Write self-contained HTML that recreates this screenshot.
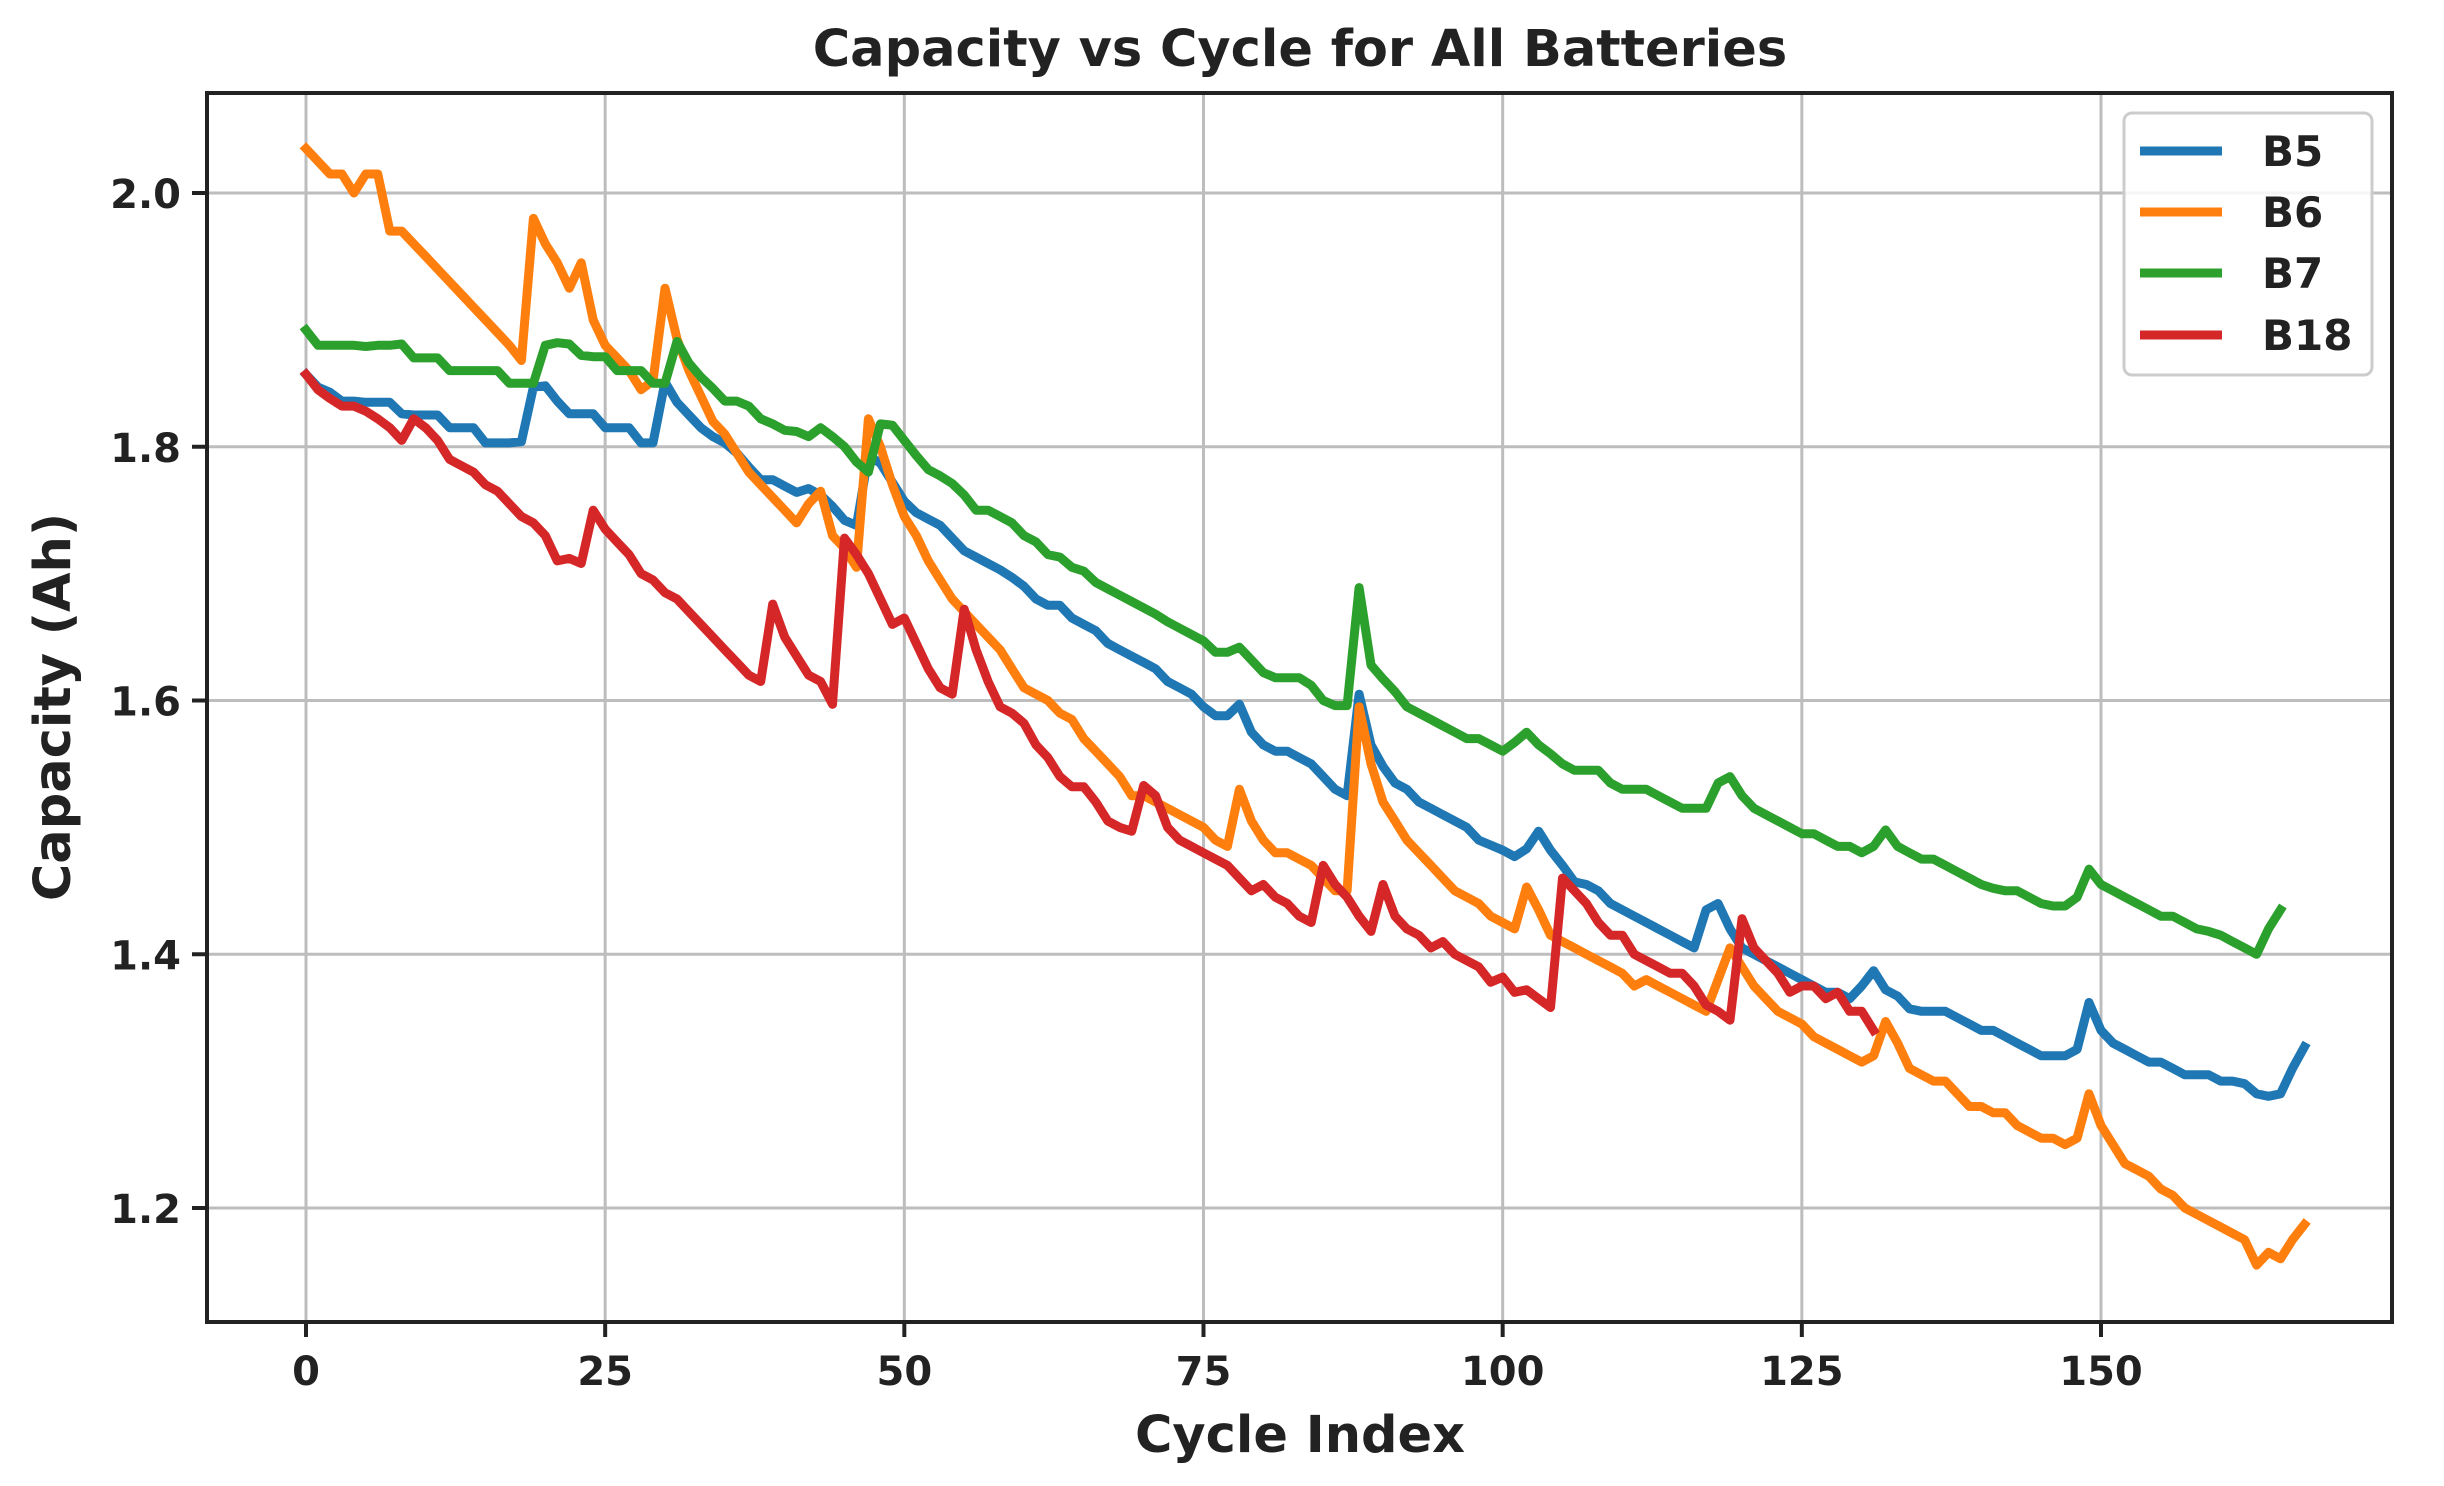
<!DOCTYPE html>
<html><head><meta charset="utf-8"><style>
html,body{margin:0;padding:0;background:#fff}
svg text{font-family:"DejaVu Sans","Liberation Sans",sans-serif;font-weight:bold;fill:#222}
</style></head><body>
<svg id="chart" width="2444" height="1481" viewBox="0 0 2444 1481" xmlns="http://www.w3.org/2000/svg">
<rect width="2444" height="1481" fill="#fff"/>
<text x="1300" y="66" font-size="51" text-anchor="middle">Capacity vs Cycle for All Batteries</text>
<g id="grid"></g>
<g id="series"></g>
<rect x="207" y="93" width="2185" height="1229" fill="none" stroke="#222" stroke-width="4"/>
<g id="ticks"></g>
<text x="1300" y="1452" font-size="51" text-anchor="middle">Cycle Index</text>
<text x="70" y="707" font-size="51" text-anchor="middle" transform="rotate(-90 70 707)">Capacity (Ah)</text>
<g id="legend"></g>
</svg>
<script>
const seriesNames=["B5","B6","B7","B18"];
const seriesColors=["#1f77b4","#ff7f0e","#2ca02c","#d62728"];
const b5=[1.857,1.847,1.843,1.836,1.836,1.835,1.835,1.835,1.826,1.825,1.825,1.825,1.815,1.815,1.815,1.803,1.803,1.803,1.804,1.847,1.848,1.836,1.826,1.826,1.826,1.815,1.815,1.815,1.803,1.803,1.851,1.835,1.825,1.815,1.808,1.803,1.795,1.784,1.774,1.774,1.769,1.764,1.767,1.762,1.753,1.742,1.738,1.793,1.787,1.772,1.757,1.748,1.743,1.738,1.728,1.718,1.713,1.708,1.703,1.697,1.69,1.68,1.675,1.675,1.665,1.66,1.655,1.645,1.64,1.635,1.63,1.625,1.615,1.61,1.605,1.595,1.588,1.588,1.597,1.575,1.565,1.56,1.56,1.555,1.55,1.54,1.53,1.525,1.605,1.565,1.548,1.535,1.53,1.52,1.515,1.51,1.505,1.5,1.49,1.486,1.482,1.477,1.483,1.497,1.482,1.47,1.457,1.455,1.45,1.44,1.435,1.43,1.425,1.42,1.415,1.41,1.405,1.435,1.44,1.42,1.405,1.4,1.395,1.39,1.385,1.38,1.375,1.37,1.37,1.365,1.375,1.387,1.372,1.367,1.357,1.355,1.355,1.355,1.35,1.345,1.34,1.34,1.335,1.33,1.325,1.32,1.32,1.32,1.325,1.362,1.34,1.33,1.325,1.32,1.315,1.315,1.31,1.305,1.305,1.305,1.3,1.3,1.298,1.29,1.288,1.29,1.31,1.327];
const b6=[2.035,2.025,2.015,2.015,2.0,2.015,2.015,1.97,1.97,1.96,1.95,1.94,1.93,1.92,1.91,1.9,1.89,1.88,1.868,1.98,1.96,1.945,1.925,1.945,1.9,1.88,1.87,1.86,1.845,1.852,1.925,1.885,1.86,1.84,1.82,1.81,1.795,1.78,1.77,1.76,1.75,1.74,1.755,1.765,1.73,1.72,1.705,1.822,1.8,1.77,1.745,1.73,1.71,1.695,1.68,1.67,1.66,1.65,1.64,1.625,1.61,1.605,1.6,1.59,1.585,1.57,1.56,1.55,1.54,1.525,1.525,1.52,1.515,1.51,1.505,1.5,1.49,1.485,1.53,1.505,1.49,1.48,1.48,1.475,1.47,1.46,1.45,1.45,1.595,1.55,1.52,1.505,1.49,1.48,1.47,1.46,1.45,1.445,1.44,1.43,1.425,1.42,1.453,1.435,1.415,1.41,1.405,1.4,1.395,1.39,1.385,1.375,1.38,1.375,1.37,1.365,1.36,1.355,1.38,1.405,1.39,1.375,1.365,1.355,1.35,1.345,1.335,1.33,1.325,1.32,1.315,1.32,1.347,1.33,1.31,1.305,1.3,1.3,1.29,1.28,1.28,1.275,1.275,1.265,1.26,1.255,1.255,1.25,1.255,1.29,1.265,1.25,1.235,1.23,1.225,1.215,1.21,1.2,1.195,1.19,1.185,1.18,1.175,1.155,1.165,1.16,1.175,1.187];
const b7=[1.892,1.88,1.88,1.88,1.88,1.879,1.88,1.88,1.881,1.87,1.87,1.87,1.86,1.86,1.86,1.86,1.86,1.85,1.85,1.85,1.88,1.882,1.881,1.872,1.871,1.871,1.86,1.86,1.86,1.85,1.85,1.883,1.866,1.855,1.846,1.836,1.836,1.832,1.822,1.818,1.813,1.812,1.808,1.815,1.808,1.8,1.788,1.78,1.818,1.817,1.805,1.793,1.782,1.777,1.771,1.762,1.75,1.75,1.745,1.74,1.73,1.725,1.715,1.713,1.705,1.702,1.693,1.688,1.683,1.678,1.673,1.668,1.662,1.657,1.652,1.647,1.638,1.638,1.642,1.632,1.622,1.618,1.618,1.618,1.612,1.6,1.596,1.596,1.689,1.628,1.617,1.607,1.595,1.59,1.585,1.58,1.575,1.57,1.57,1.565,1.56,1.567,1.575,1.565,1.558,1.55,1.545,1.545,1.545,1.535,1.53,1.53,1.53,1.525,1.52,1.515,1.515,1.515,1.535,1.54,1.525,1.515,1.51,1.505,1.5,1.495,1.495,1.49,1.485,1.485,1.48,1.485,1.498,1.485,1.48,1.475,1.475,1.47,1.465,1.46,1.455,1.452,1.45,1.45,1.445,1.44,1.438,1.438,1.445,1.467,1.455,1.45,1.445,1.44,1.435,1.43,1.43,1.425,1.42,1.418,1.415,1.41,1.405,1.4,1.42,1.435];
const b18=[1.857,1.845,1.838,1.832,1.832,1.828,1.822,1.815,1.805,1.822,1.815,1.805,1.79,1.785,1.78,1.77,1.765,1.755,1.745,1.74,1.73,1.71,1.712,1.708,1.75,1.735,1.725,1.715,1.7,1.695,1.685,1.68,1.67,1.66,1.65,1.64,1.63,1.62,1.615,1.676,1.65,1.635,1.62,1.615,1.597,1.728,1.715,1.7,1.68,1.66,1.665,1.645,1.625,1.61,1.605,1.672,1.64,1.615,1.595,1.59,1.582,1.565,1.555,1.54,1.532,1.532,1.52,1.505,1.5,1.497,1.533,1.525,1.5,1.49,1.485,1.48,1.475,1.47,1.46,1.45,1.455,1.445,1.44,1.43,1.425,1.47,1.455,1.445,1.43,1.418,1.455,1.43,1.42,1.415,1.405,1.41,1.4,1.395,1.39,1.378,1.382,1.37,1.372,1.365,1.358,1.46,1.45,1.44,1.425,1.415,1.415,1.4,1.395,1.39,1.385,1.385,1.375,1.36,1.355,1.348,1.428,1.405,1.395,1.385,1.37,1.375,1.375,1.365,1.37,1.355,1.355,1.34];
const xTicks=[0,25,50,75,100,125,150];
const yTicks=[1.2,1.4,1.6,1.8,2.0];
const yTickLabels=["1.2","1.4","1.6","1.8","2.0"];
const allSeries=[b5,b6,b7,b18];

const NS="http://www.w3.org/2000/svg";
const L=207,R=2392,T=93,B=1322;
function xs(v){return 306+(v-0)*(2101-306)/150;}
function ys(v){return 193+(2.0-v)*(1208-193)/0.8;}
function mk(tag,attrs,parent){const e=document.createElementNS(NS,tag);for(const k in attrs)e.setAttribute(k,attrs[k]);parent.appendChild(e);return e;}
const grid=document.getElementById('grid'),ticks=document.getElementById('ticks'),ser=document.getElementById('series'),leg=document.getElementById('legend');
xTicks.forEach(t=>{
  const g=mk('line',{x1:xs(t),x2:xs(t),y1:T,y2:B,stroke:'#bdbdbd','stroke-width':3},grid);
  
  
  const tk=mk('line',{x1:xs(t),x2:xs(t),y1:B,y2:B+15,stroke:'#222','stroke-width':4},ticks);
  
  
  const tx=mk('text',{x:xs(t),y:1385,'font-size':40,'text-anchor':'middle'},ticks);
  tx.textContent=String(t);
  
  
});
yTicks.forEach((t,i)=>{
  const g=mk('line',{x1:L,x2:R,y1:ys(t),y2:ys(t),stroke:'#bdbdbd','stroke-width':3},grid);
  
  
  const tk=mk('line',{x1:L-15,x2:L,y1:ys(t),y2:ys(t),stroke:'#222','stroke-width':4},ticks);
  
  
  const tx=mk('text',{x:L-26,y:ys(t)+15,'font-size':40,'text-anchor':'end'},ticks);
  tx.textContent=yTickLabels[i];
  
  
});
allSeries.forEach((d,si)=>{
  const pts=d.map((v,i)=>xs(i).toFixed(1)+','+ys(v).toFixed(1)).join(' ');
  const p=mk('polyline',{points:pts,fill:'none',stroke:seriesColors[si],'stroke-width':9,'stroke-linejoin':'round','stroke-linecap':'square'},ser);
  
  
});
const box=mk('rect',{x:2124,y:113,width:248,height:262,rx:8,fill:'#fff','fill-opacity':0.85,stroke:'#ccc','stroke-width':3},leg);


const legY=[151,212,273,335];
seriesNames.forEach((n,i)=>{
  const ln=mk('line',{x1:2140,x2:2222,y1:legY[i],y2:legY[i],stroke:seriesColors[i],'stroke-width':9},leg);
  
  
  const tx=mk('text',{x:2262,y:legY[i]+15,'font-size':42},leg);
  tx.textContent=n;
  
  
});
</script>
</body></html>
